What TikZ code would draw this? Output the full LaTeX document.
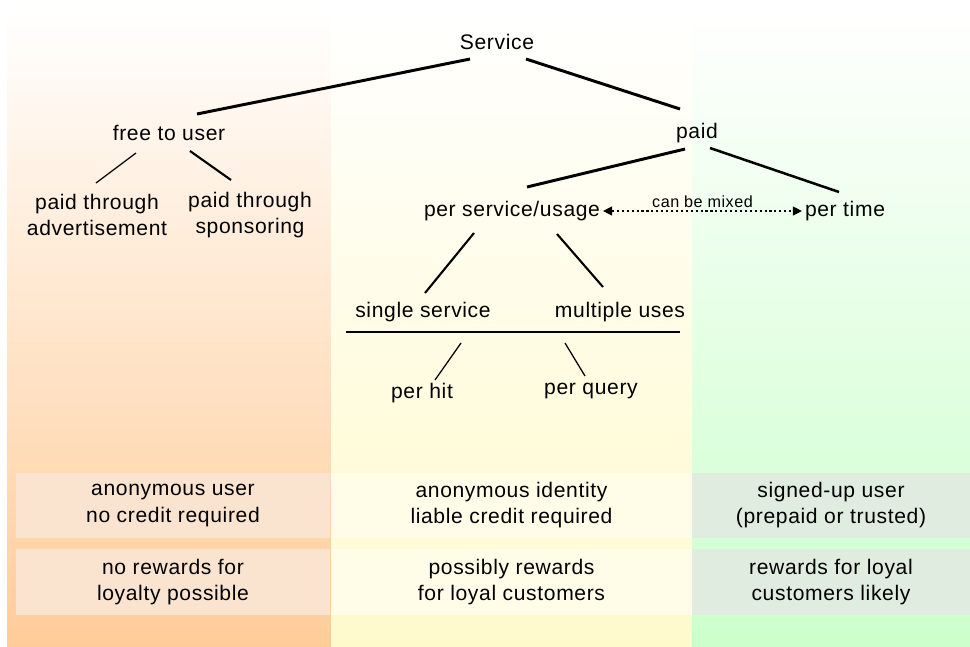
\documentclass[tikz,border=0pt]{standalone}
\usepackage{fontspec}
\setmainfont{Liberation Sans}[LetterSpace=3]
\usetikzlibrary{arrows.meta,calc,positioning}
\definecolor{freeorange}{RGB}{255,204,153}
\definecolor{usageyellow}{RGB}{255,250,204}
\definecolor{timegreen}{RGB}{204,255,204}
\definecolor{freebox}{RGB}{250,228,208}
\definecolor{usagebox}{RGB}{255,253,232}
\definecolor{timebox}{RGB}{224,236,224}

\begin{document}
\begin{tikzpicture}[
        x=0.025cm, y=-0.025cm,
        txt/.style={font=\fontsize{15}{18.5}\selectfont, align=center, inner sep=2pt},
        cell/.style={txt, minimum height=1.64cm, inner sep=0pt},
        trunk/.style={line width=2.1pt},
        branch/.style={line width=1.5pt},
        twig/.style={line width=0.9pt},
        mixarrow/.style={{Triangle[length=6.5pt,width=6.5pt]}-{Triangle[length=6.5pt,width=6.5pt]}, dash pattern=on 1.5pt off 2pt, line width=0.8pt}
    ]
        \useasboundingbox (0,0) rectangle (970,646);
        \fill[white] (0,0) rectangle (970,646);

        % Columns
        \shade[top color=white, bottom color=freeorange] (7,8) rectangle (331,646);
        \shade[top color=white, bottom color=usageyellow] (331,8) rectangle (692,646);
        \shade[top color=white, bottom color=timegreen] (692,8) rectangle (970,646);

        % Tree
        \node[txt] (srv) at (497,42) {Service};
        \node[txt] (free) at (169,133) {free to user};
        \node[txt] (paid) at (697,133) {paid};
        \node[txt] (adv) at (97,215) {paid through\\advertisement};
        \node[txt] (spons) at (250,215) {paid through\\sponsoring};
        \node[txt] (psu) at (512,211) {per service/usage};
        \node[txt] (ptime) at (845,211) {per time};
        \node[txt] (single) at (423,312) {single service};
        \node[txt] (multi) at (620,312) {multiple uses};
        \node[txt] (hit) at (422,393) {per hit};
        \node[txt] (query) at (591,391) {per query};

        % Bottom cells
        \node[cell, fill=freebox, minimum width=7.85cm] (anon) at (173,505.5) {anonymous user\\no credit required};
        \node[cell, fill=usagebox, minimum width=9.025cm] (ident) at (511.5,505.5) {anonymous identity\\liable credit required};
        \node[cell, fill=timebox, minimum width=6.95cm] (signed) at (831,505.5) {signed-up user\\(prepaid or trusted)};
        \node[cell, fill=freebox, minimum width=7.85cm] (norew) at (173,582) {no rewards for\\loyalty possible};
        \node[cell, fill=usagebox, minimum width=9.025cm] (posrew) at (511.5,582) {possibly rewards\\for loyal customers};
        \node[cell, fill=timebox, minimum width=6.95cm] (likely) at (831,582) {rewards for loyal\\customers likely};

        % Connectors
        \draw[trunk] ($(srv)+(-27,17)$) -- ($(free)+(28,-19)$);
        \draw[trunk] ($(srv)+(29,17)$) -- ($(paid)+(-17,-24)$);
        \draw[twig] ($(free)+(-33,20)$) -- ($(adv)+(-1,-32)$);
        \draw[branch] ($(free)+(21,18)$) -- ($(spons)+(-19,-35)$);
        \draw[trunk] ($(paid)+(-12,16)$) -- ($(psu)+(15,-24)$);
        \draw[line width=1.8pt] ($(paid)+(13,15)$) -- ($(ptime)+(-6,-19)$);
        \draw[branch] ($(psu)+(-38,22)$) -- ($(single)+(2,-19)$);
        \draw[branch] ($(psu)+(45,23)$) -- ($(multi)+(-17,-25)$);
        \draw[mixarrow] (psu.east) -- node[above=-1pt, font=\fontsize{11.5}{12}\selectfont] {can be mixed} (ptime.west);
        \draw[line width=1.1pt] ($(single)+(-77,20)$) -- ($(multi)+(60,20)$);
        \draw[twig] ($(single)+(38,31)$) -- ($(hit)+(13,-13)$);
        \draw[twig] ($(multi)+(-55,31)$) -- ($(query)+(-6,-15)$);
    \end{tikzpicture}
\end{document}
